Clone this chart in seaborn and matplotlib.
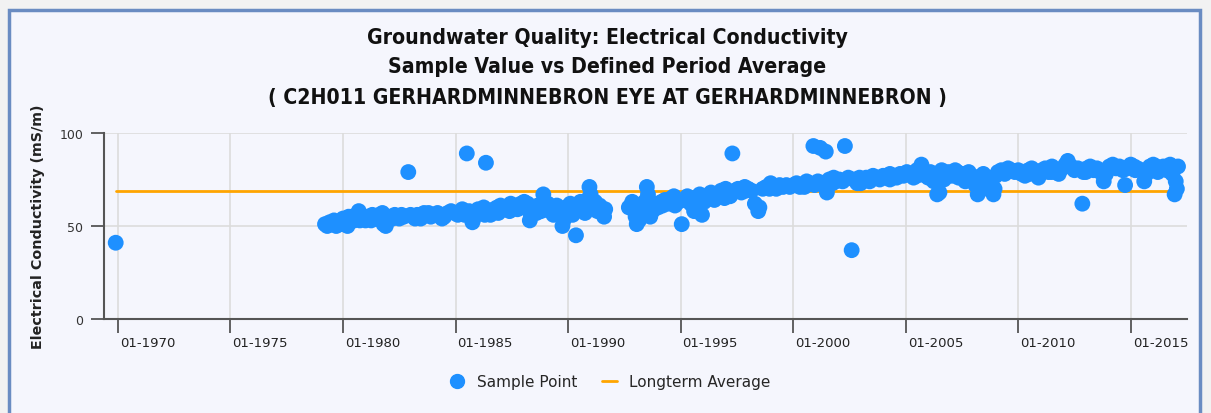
import numpy as np
import pandas as pd
import matplotlib
matplotlib.use("Agg")
import matplotlib.pyplot as plt
import matplotlib.transforms as mtransforms
import seaborn as sns
from matplotlib.patches import Rectangle
from matplotlib.lines import Line2D

# sample dates (decimal years) and electrical conductivity (mS/m)
years = [1969.9,
         1979.2, 1979.3, 1979.4, 1979.5, 1979.6, 1979.7, 1979.8, 1979.9,
         1980.0, 1980.1, 1980.2, 1980.3, 1980.4, 1980.5, 1980.6, 1980.7, 1980.8, 1980.9,
         1981.0, 1981.1, 1981.2, 1981.3, 1981.4, 1981.5, 1981.6, 1981.7, 1981.8, 1981.9,
         1982.0, 1982.1, 1982.2, 1982.3, 1982.4, 1982.5, 1982.6, 1982.7, 1982.9,
         1983.0, 1983.15, 1983.3, 1983.45, 1983.6, 1983.75, 1983.9,
         1984.05, 1984.2, 1984.35, 1984.5, 1984.65, 1984.8, 1984.95,
         1985.1, 1985.25, 1985.4, 1985.5, 1985.6, 1985.75, 1985.8, 1985.9,
         1986.0, 1986.1, 1986.25, 1986.35, 1986.4, 1986.55, 1986.7, 1986.85,
         1987.0, 1987.15, 1987.3, 1987.45, 1987.6, 1987.75, 1987.9,
         1988.05, 1988.2, 1988.3, 1988.35, 1988.5, 1988.65, 1988.8, 1988.9,
         1989.0, 1989.1, 1989.2, 1989.35, 1989.5, 1989.6, 1989.75, 1989.8, 1989.9,
         1990.0, 1990.1, 1990.2, 1990.35, 1990.45, 1990.55, 1990.65, 1990.75, 1990.85, 1990.95, 1991.0,
         1991.1, 1991.2, 1991.3, 1991.4, 1991.5, 1991.6, 1991.65,
         1992.7, 1992.85, 1993.0, 1993.05, 1993.15, 1993.25, 1993.35, 1993.5, 1993.55, 1993.65, 1993.75, 1993.85,
         1994.0, 1994.15, 1994.3, 1994.45, 1994.6, 1994.75, 1994.9,
         1995.05, 1995.15, 1995.3, 1995.45, 1995.6, 1995.7, 1995.85, 1995.95,
         1996.05, 1996.2, 1996.35, 1996.5, 1996.65, 1996.8, 1996.95,
         1997.05, 1997.2, 1997.3, 1997.4, 1997.55, 1997.7, 1997.85,
         1998.0, 1998.15, 1998.3, 1998.45, 1998.5, 1998.65, 1998.8, 1998.95,
         1999.1, 1999.25, 1999.4, 1999.55, 1999.7, 1999.85,
         2000.0, 2000.15, 2000.3, 2000.45, 2000.6, 2000.75, 2000.9, 2000.95,
         2001.1, 2001.2, 2001.3, 2001.45, 2001.5, 2001.6, 2001.75, 2001.9,
         2002.05, 2002.2, 2002.3, 2002.45, 2002.6, 2002.7, 2002.85, 2002.95,
         2003.1, 2003.25, 2003.4, 2003.55, 2003.7, 2003.85,
         2004.0, 2004.15, 2004.3, 2004.45, 2004.6, 2004.75, 2004.9,
         2005.05, 2005.2, 2005.35, 2005.5, 2005.7, 2005.8, 2005.9,
         2006.0, 2006.1, 2006.25, 2006.4, 2006.5, 2006.6, 2006.75, 2006.9,
         2007.05, 2007.2, 2007.35, 2007.5, 2007.65, 2007.8, 2007.95,
         2008.1, 2008.2, 2008.3, 2008.45, 2008.6, 2008.75, 2008.9, 2008.95,
         2009.1, 2009.25, 2009.4, 2009.55, 2009.7, 2009.85,
         2010.0, 2010.15, 2010.3, 2010.45, 2010.6, 2010.75, 2010.9,
         2011.05, 2011.2, 2011.35, 2011.5, 2011.65, 2011.8, 2011.95,
         2012.1, 2012.2, 2012.35, 2012.5, 2012.65, 2012.85, 2012.9,
         2013.05, 2013.2, 2013.35, 2013.5, 2013.65, 2013.8, 2013.9,
         2014.05, 2014.2, 2014.35, 2014.5, 2014.65, 2014.75, 2014.85,
         2015.0, 2015.15, 2015.3, 2015.45, 2015.6, 2015.7, 2015.85,
         2016.0, 2016.15, 2016.3, 2016.45, 2016.6, 2016.75, 2016.85, 2016.95, 2017.0, 2017.05, 2017.1,
         # extra samples filling the band
         1980.25, 1980.75, 1981.25, 1981.75, 1983.2, 1983.8, 1984.4, 1985.3, 1986.3, 1986.9,
         1987.4, 1988.0, 1988.6, 1989.3, 1989.9, 1990.5, 1991.2, 1993.4, 1994.2, 1994.7,
         1995.5, 1996.4, 1997.0, 1997.9, 1999.0, 2000.5, 2001.8, 2003.0, 2004.3, 2005.5,
         2006.7, 2007.3, 2009.0, 2010.5, 2011.5, 2013.0, 2014.0, 2015.2, 2016.2, 2016.8]

values = [41,
          51, 50, 52, 51, 53, 50, 52, 51,
          54, 53, 50, 52, 55, 53, 56, 58, 55, 54,
          53, 55, 54, 56, 55, 54, 56, 55, 51, 50,
          53, 55, 54, 56, 55, 54, 56, 55, 79,
          56, 55, 56, 54, 57, 56, 55,
          56, 57, 56, 55, 57, 58, 57,
          56, 57, 56, 89, 58, 52, 54, 58,
          59, 57, 60, 84, 58, 56, 59, 60,
          61, 59, 60, 62, 61, 59, 62,
          63, 62, 53, 56, 59, 61, 58, 67,
          60, 62, 58, 56, 61, 59, 50, 53, 60,
          58, 62, 56, 45, 59, 63, 60, 57, 64, 71, 67,
          62, 60, 58, 61, 57, 55, 59,
          60, 63, 55, 51, 53, 57, 60, 71, 67, 55, 58, 62,
          60, 63, 64, 62, 65, 61, 63,
          51, 64, 66, 62, 58, 60, 67, 56,
          63, 66, 68, 64, 67, 69, 65,
          68, 66, 89, 69, 70, 68, 71,
          70, 69, 62, 58, 60, 70, 71, 70,
          71, 70, 72, 71, 72, 71,
          72, 73, 71, 72, 74, 73, 93, 72,
          74, 92, 73, 90, 68, 75, 73, 74,
          75, 74, 93, 76, 37, 75, 73, 76,
          75, 76, 74, 77, 76, 75,
          77, 76, 78, 77, 76, 78, 77,
          79, 78, 76, 80, 83, 78, 77,
          76, 79, 74, 67, 68, 80, 78, 79,
          77, 80, 76, 78, 74, 79, 77,
          72, 67, 69, 78, 76, 73, 67, 70,
          79, 80, 78, 81, 80, 79,
          80, 78, 77, 80, 81, 79, 76,
          80, 81, 79, 82, 80, 78, 81,
          83, 85, 82, 80, 81, 62, 79,
          81, 82, 80, 81, 79, 74, 78,
          82, 83, 81, 82, 80, 72, 81,
          83, 82, 81, 80, 74, 78, 82,
          83, 82, 81, 82, 80, 83, 78, 67, 74, 70, 82,
          55, 53, 53, 57, 54, 57, 54, 59, 56, 57,
          58, 60, 57, 60, 57, 61, 63, 63, 61, 66,
          65, 65, 70, 69, 73, 71, 76, 73, 75, 77,
          75, 79, 77, 78, 79, 79, 81, 80, 79, 81]

avg_years = [1969.9, 2017.1]
avg_values = [68.7, 68.7]

tick_years = [1970, 1975, 1980, 1985, 1990, 1995, 2000, 2005, 2010, 2015]
tick_labels = ["01-" + str(y) for y in tick_years]

df = pd.DataFrame({"year": years, "ec": values})
avg = pd.DataFrame({"year": avg_years, "ec": avg_values})

sns.set_style("white")
plt.rcParams["font.family"] = ["DejaVu Sans"]

W, H = 1211, 414
fig = plt.figure(figsize=(W / 100, H / 100), dpi=100)
fig.patch.set_facecolor("#f2f2f2")

# chart frame (behind the axes)
frame = Rectangle((9 / W, -0.05), (1200 - 9) / W, 1.05 - 11 / H, transform=fig.transFigure,
                  facecolor="#f5f6fd", edgecolor="#6a8cc2", linewidth=2.5, zorder=-10)
fig.patches.append(frame)

ax = fig.add_axes([104 / W, 94 / H, (1187 - 104) / W, 186 / H])
ax.set_facecolor("none")

sns.lineplot(data=avg, x="year", y="ec", ax=ax, color="#ffa500", linewidth=2, zorder=2)
sns.scatterplot(data=df, x="year", y="ec", ax=ax, color="#1e90ff", s=130,
                edgecolor="none", alpha=1, zorder=3, clip_on=False)

ax.set_xlim(1969.38, 2017.5)
ax.set_ylim(0, 100)
ax.set_yticks([0, 50, 100])
ax.set_yticklabels(["0", "50", "100"], fontsize=9, color="#333333")
ax.set_xticks(tick_years)
ax.set_xticklabels(tick_labels, fontsize=9.5, color="#222222", ha="left")
ax.tick_params(axis="x", bottom=True, length=10, width=1.3, color="#555555", pad=2, direction="out")
ax.tick_params(axis="y", left=True, length=9.5, width=1.3, color="#555555", pad=5.5, direction="out")
ax.grid(True, color="#dcdcdc", linewidth=1.2)
ax.set_axisbelow(True)
for s in ["top", "right"]:
    ax.spines[s].set_visible(False)
for s in ["left", "bottom"]:
    ax.spines[s].set_color("#555555")
    ax.spines[s].set_linewidth(1.5)
ax.set_xlabel("")
ax.set_ylabel("Electrical Conductivity (mS/m)", fontsize=10.3, fontweight="bold", color="#222222", labelpad=10)

# x tick labels sit just right of the tick
offset = mtransforms.ScaledTranslation(2 / 100, 0, fig.dpi_scale_trans)
for lab in ax.get_xticklabels():
    lab.set_transform(lab.get_transform() + offset)

title_lines = ["Groundwater Quality: Electrical Conductivity",
               "Sample Value vs Defined Period Average",
               "( C2H011 GERHARDMINNEBRON EYE AT GERHARDMINNEBRON )"]
for txt, ypx in zip(title_lines, [38, 67, 98]):
    fig.text(607 / W, 1 - ypx / H, txt, ha="center", va="center",
             fontsize=15.2, fontweight="bold", fontstretch="condensed", color="#111111")

handles = [Line2D([], [], marker="o", linestyle="none", color="#1e90ff", markersize=10),
           Line2D([], [], color="#ffa500", linewidth=2)]
fig.legend(handles, ["Sample Point", "Longterm Average"], loc="center", bbox_to_anchor=(610 / W, 1 - 383 / H),
           ncol=2, frameon=False, fontsize=11, handlelength=1.0, columnspacing=1.6, handletextpad=0.8)

fig.savefig("out.png", dpi=100, facecolor=fig.get_facecolor())
